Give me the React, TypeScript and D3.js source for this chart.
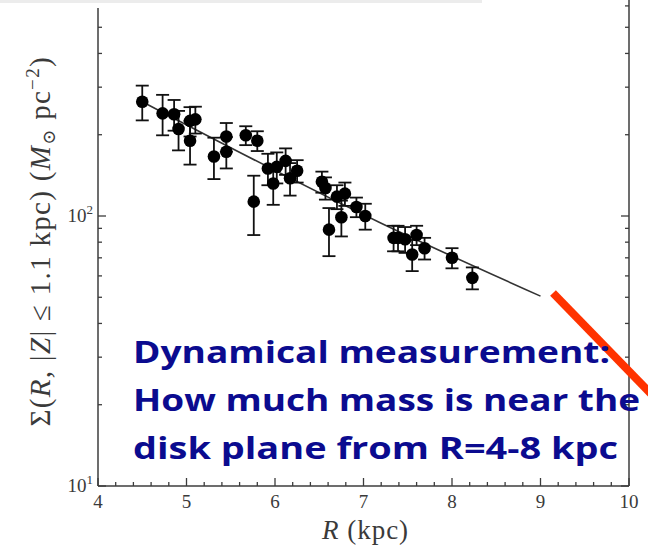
import React from 'react';
import * as d3 from 'd3';

const radius = [4.5, 4.73, 4.86, 4.91, 5.04, 5.1, 5.04, 5.31, 5.45, 5.45, 5.67, 5.8, 5.76, 5.92, 6.02, 6.12, 5.98, 6.17, 6.25, 6.53, 6.57, 6.7, 6.79, 6.75, 6.61, 6.92, 7.02, 7.34, 7.39, 7.47, 7.6, 7.69, 7.55, 8.0, 8.23];
const sigma = [265, 240, 238, 210, 225, 228, 190, 166, 197, 173, 199, 190, 113, 150, 152, 160, 132, 138, 147, 134, 127, 118, 121, 99, 89, 108, 100, 83, 83, 82, 85, 76, 72, 70, 59];
const sigmaErr = [39, 41, 31, 35, 28, 26, 35, 29, 24, 23, 16, 16, 28, 20, 20, 18, 22, 19, 14, 12, 12, 12, 12, 15, 18, 9, 11, 9, 9, 9, 7, 7, 9.5, 6, 5.5];

// exponential disk fit
const fitR = [4.5, 7.2, 9.0];
const fitSigma = [265, 94, 50.5];

const xTicks = [4, 5, 6, 7, 8, 9, 10];
const noteLines = ['Dynamical measurement:', 'How much mass is near the', 'disk plane from R=4-8 kpc'];
const noteWidths = [477, 507, 485];

const W = 648;
const H = 546;
const left = 98;
const right = 629;
const bottom = 486;
const decade = 270;
const axisColor = '#3c3c3c';
const textColor = '#3a3a3a';
const serif = '"Liberation Serif", "DejaVu Serif", serif';

export default function App() {
  const x = d3.scaleLinear().domain([4, 10]).range([left, right]);
  const y = d3.scaleLog().domain([10, 650]).range([bottom, bottom - decade * Math.log10(65)]);
  const top = y(650);

  const yTicks = y.ticks();
  const xMinor = d3.range(4, 10.001, 0.2);

  const fitLine = d3
    .line<number>()
    .x((d, i) => x(fitR[i]))
    .y((d) => y(d))
    .curve(d3.curveMonotoneX);

  return (
    <svg width={W} height={H} style={{ position: 'absolute', left: 0, top: 0, background: '#fff' }}>
      <rect x={0} y={0} width={W} height={H} fill="#fff" />

      {/* frame */}
      <line x1={left} x2={left} y1={top} y2={bottom} stroke={axisColor} strokeWidth={1.5} />
      <line x1={right} x2={right} y1={top} y2={bottom} stroke={axisColor} strokeWidth={1.5} />
      <line x1={left} x2={right} y1={bottom} y2={bottom} stroke={axisColor} strokeWidth={1.5} />

      {/* y ticks, both sides, inward */}
      {yTicks.map((t) => {
        const major = Math.abs(Math.log10(t) - Math.round(Math.log10(t))) < 1e-6;
        const len = major ? 8 : 4;
        return (
          <g key={'y' + t}>
            <line x1={left} x2={left + len} y1={y(t)} y2={y(t)} stroke={axisColor} strokeWidth={1.3} />
            <line x1={right} x2={right - len} y1={y(t)} y2={y(t)} stroke={axisColor} strokeWidth={1.3} />
          </g>
        );
      })}
      {[10, 100].map((t) => (
        <text key={'yl' + t} x={left - 5} y={y(t) + 6} textAnchor="end" fontFamily={serif} fontSize={19} fill={textColor}>
          10<tspan fontSize={13} dy={-8}>{Math.round(Math.log10(t))}</tspan>
        </text>
      ))}

      {/* x ticks */}
      {xMinor.map((t) => {
        const major = Math.abs(t - Math.round(t)) < 1e-6;
        return (
          <line key={'x' + t} x1={x(t)} x2={x(t)} y1={bottom} y2={bottom - (major ? 8 : 4)} stroke={axisColor} strokeWidth={1.3} />
        );
      })}
      {xTicks.map((t) => (
        <text key={'xl' + t} x={x(t)} y={bottom + 22} textAnchor="middle" fontFamily={serif} fontSize={19} fill={textColor}>
          {t}
        </text>
      ))}

      {/* axis labels */}
      <text x={(left + right) / 2 + 2} y={539} textAnchor="middle" fontFamily={serif} fontSize={27} letterSpacing={1} fill={textColor}>
        <tspan fontStyle="italic">R</tspan> (kpc)
      </text>
      <text transform={`translate(50,${(top + bottom) / 2}) rotate(-90)`} textAnchor="middle" fontFamily={serif} fontSize={29} letterSpacing={1.3} fill={textColor}>
        Σ(<tspan fontStyle="italic">R</tspan>, |<tspan fontStyle="italic">Z</tspan>| ≤ 1.1 kpc) (<tspan fontStyle="italic">M</tspan>
        <tspan fontSize={18} dy={5}>⊙</tspan>
        <tspan dy={-5}> pc</tspan>
        <tspan fontSize={19} dy={-11}>−2</tspan>
        <tspan dy={11}>)</tspan>
      </text>

      {/* fit */}
      <path d={fitLine(fitSigma) || ''} fill="none" stroke="#333" strokeWidth={1.6} />

      {/* error bars + points */}
      {radius.map((r, i) => {
        const cx = x(r);
        const y0 = y(sigma[i] - sigmaErr[i]);
        const y1 = y(sigma[i] + sigmaErr[i]);
        return (
          <g key={'p' + i} stroke="#111" strokeWidth={1.8}>
            <line x1={cx} x2={cx} y1={y0} y2={y1} />
            <line x1={cx - 6.5} x2={cx + 6.5} y1={y0} y2={y0} />
            <line x1={cx - 6.5} x2={cx + 6.5} y1={y1} y2={y1} />
          </g>
        );
      })}
      {radius.map((r, i) => (
        <circle key={'c' + i} cx={x(r)} cy={y(sigma[i])} r={6.3} fill="#000" />
      ))}

      {/* slide overlay bits */}
      <rect x={0} y={0} width={482} height={8} fill="#fff" />
      <rect x={0} y={0} width={482} height={3} fill="#ececec" />
      <line x1={553} y1={293} x2={660} y2={403} stroke="#ff3300" strokeWidth={8} />

      {noteLines.map((s, i) => (
        <text
          key={'n' + i}
          x={133}
          y={363 + i * 48}
          fontFamily="'Open Sans', Lato, sans-serif"
          fontWeight={700}
          fontSize={31}
          fill="#0b0b8f"
          textLength={noteWidths[i]}
          lengthAdjust="spacingAndGlyphs"
        >
          {s}
        </text>
      ))}
    </svg>
  );
}
